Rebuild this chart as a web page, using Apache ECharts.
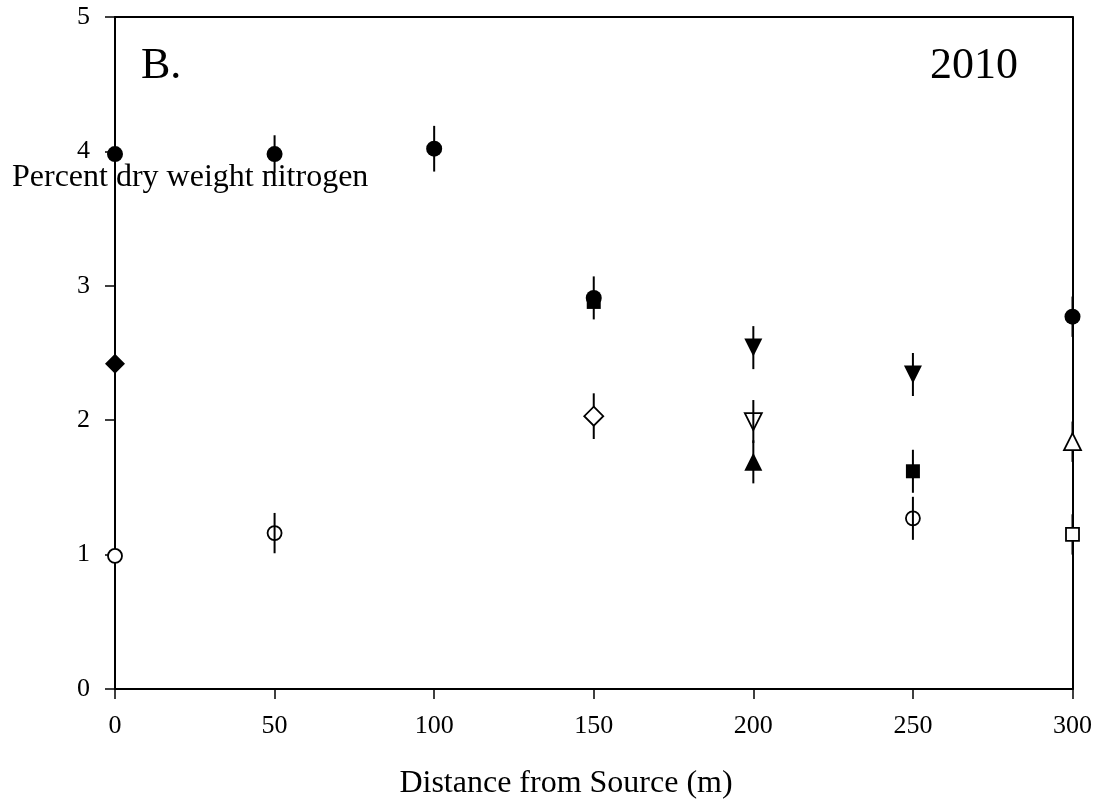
<!DOCTYPE html>
<html>
<head>
<meta charset="utf-8">
<script src="https://cdn.jsdelivr.net/npm/echarts@6/dist/echarts.min.js"></script>
<style>
html,body{margin:0;padding:0;background:#fff;}
#chart{width:1095px;height:807px;}
</style>
</head>
<body>
<div id="chart"></div>
<script>
// ---- data ----
const xTicks = [0, 50, 100, 150, 200, 250, 300];
const yTicks = [0, 1, 2, 3, 4, 5];

const filledCircle   = [[0, 3.98], [50, 3.98], [100, 4.02], [150, 2.91], [300, 2.77]];
const filledCircleErr = [0.15, 0.14, 0.17, 0.16, 0.15];
const filledDiamond  = [[0, 2.42]];
const filledDiamondErr = [0.15];
const openCircle     = [[0, 0.99], [50, 1.16], [250, 1.27]];
const openCircleErr  = [0.15, 0.15, 0.16];
const filledSquare   = [[150, 2.88], [250, 1.62]];
const filledSquareErr = [0.0, 0.16];
const openDiamond    = [[150, 2.03]];
const openDiamondErr = [0.17];
const filledDownTri  = [[200, 2.54], [250, 2.34]];
const filledDownTriErr = [0.16, 0.16];
const openDownTri    = [[200, 1.99]];
const openDownTriErr = [0.16];
const filledUpTri    = [[200, 1.69]];
const filledUpTriErr = [0.16];
const openUpTri      = [[300, 1.84]];
const openUpTriErr   = [0.15];
const openSquare     = [[300, 1.15]];
const openSquareErr  = [0.15];

const panelLabel = 'B.';
const yearLabel = '2010';
const xTitle = 'Distance from Source (m)';
const yTitle = 'Percent dry weight nitrogen';

// ---- build ----
const FONT = "'Liberation Serif', 'Times New Roman', serif";
const OPEN = 'open';
const groups = [
  {name: 'filledCircle', data: filledCircle, err: filledCircleErr, symbol: 'circle', size: 16, rot: 0, fill: '#000'},
  {name: 'filledDiamond', data: filledDiamond, err: filledDiamondErr, symbol: 'diamond', size: 20, rot: 0, fill: '#000'},
  {name: 'openCircle', data: openCircle, err: openCircleErr, symbol: 'circle', size: 14, rot: 0, fill: OPEN},
  {name: 'filledSquare', data: filledSquare, err: filledSquareErr, symbol: 'rect', size: 14, rot: 0, fill: '#000'},
  {name: 'openDiamond', data: openDiamond, err: openDiamondErr, symbol: 'diamond', size: 19, rot: 0, fill: '#fff'},
  {name: 'filledDownTri', data: filledDownTri, err: filledDownTriErr, symbol: 'triangle', size: 18, rot: 180, fill: '#000'},
  {name: 'openDownTri', data: openDownTri, err: openDownTriErr, symbol: 'triangle', size: 17, rot: 180, fill: 'rgba(255,255,255,0)'},
  {name: 'filledUpTri', data: filledUpTri, err: filledUpTriErr, symbol: 'triangle', size: 18, rot: 0, fill: '#000'},
  {name: 'openUpTri', data: openUpTri, err: openUpTriErr, symbol: 'triangle', size: 17, rot: 0, fill: '#fff'},
  {name: 'openSquare', data: openSquare, err: openSquareErr, symbol: 'rect', size: 13, rot: 0, fill: '#fff'}
];

const errData = [];
groups.forEach(g => g.data.forEach((p, i) => {
  if (g.err[i] > 0) errData.push([p[0], p[1] - g.err[i], p[1] + g.err[i]]);
}));

const series = [{
  type: 'custom',
  name: 'errorbars',
  z: 1,
  silent: true,
  data: errData,
  renderItem: function (params, api) {
    const top = api.coord([api.value(0), api.value(2)]);
    const bot = api.coord([api.value(0), api.value(1)]);
    return {
      type: 'line',
      shape: {x1: top[0], y1: top[1], x2: bot[0], y2: bot[1]},
      style: {stroke: '#000', lineWidth: 2}
    };
  }
}];
const xMin = xTicks[0], xMax = xTicks[xTicks.length - 1];
groups.forEach(g => {
  const filled = g.fill === '#000';
  const data = g.data.map(p => {
    if (g.fill !== OPEN) return p;
    // open circles: hollow in the field, white where they sit on a frame line
    const onFrame = p[0] === xMin || p[0] === xMax;
    return {value: p, itemStyle: {color: onFrame ? '#fff' : 'rgba(255,255,255,0)'}};
  });
  series.push({
    type: 'scatter',
    name: g.name,
    z: 3,
    data: data,
    symbol: g.symbol,
    symbolSize: g.size,
    symbolRotate: g.rot,
    itemStyle: {color: g.fill === OPEN ? '#fff' : g.fill, borderColor: '#000', borderWidth: filled ? 0 : 1.8, opacity: 1},
    emphasis: {disabled: true},
    silent: true
  });
});

const chart = echarts.init(document.getElementById('chart'), null, {renderer: 'canvas'});
chart.setOption({
  animation: false,
  backgroundColor: '#fff',
  grid: {left: 115, right: 22, top: 17, bottom: 118, containLabel: false},
  xAxis: [{
    type: 'value', min: xMin, max: xMax, interval: 50,
    axisLine: {show: true, lineStyle: {color: '#000', width: 2}},
    axisTick: {show: true, length: 10, lineStyle: {color: '#000', width: 1.5}},
    axisLabel: {color: '#000', fontFamily: FONT, fontSize: 26, margin: 24},
    splitLine: {show: false}
  }, {
    type: 'value', position: 'top', min: xMin, max: xMax,
    axisLine: {show: true, onZero: false, lineStyle: {color: '#000', width: 2}},
    axisTick: {show: false}, axisLabel: {show: false}, splitLine: {show: false}
  }],
  yAxis: [{
    type: 'value', min: yTicks[0], max: yTicks[yTicks.length - 1], interval: 1,
    axisLine: {show: true, onZero: false, lineStyle: {color: '#000', width: 2}},
    axisTick: {show: true, length: 10, lineStyle: {color: '#000', width: 1.5}},
    axisLabel: {color: '#000', fontFamily: FONT, fontSize: 26, margin: 25},
    splitLine: {show: false}
  }, {
    type: 'value', position: 'right', min: yTicks[0], max: yTicks[yTicks.length - 1],
    axisLine: {show: true, onZero: false, lineStyle: {color: '#000', width: 2}},
    axisTick: {show: false}, axisLabel: {show: false}, splitLine: {show: false}
  }],
  graphic: [
    {type: 'text', x: 141, y: 66, z: 10, style: {text: panelLabel, font: '44px ' + FONT, fill: '#000', verticalAlign: 'middle'}},
    {type: 'text', x: 1018, y: 66, z: 10, style: {text: yearLabel, font: '44px ' + FONT, fill: '#000', align: 'right', verticalAlign: 'middle'}},
    {type: 'text', x: 12, y: 178, z: 10, style: {text: yTitle, font: '32px ' + FONT, fill: '#000', verticalAlign: 'middle'}},
    {type: 'text', x: 566, y: 784, z: 10, style: {text: xTitle, font: '32px ' + FONT, fill: '#000', align: 'center', verticalAlign: 'middle'}}
  ],
  series: series
});
</script>
</body>
</html>
